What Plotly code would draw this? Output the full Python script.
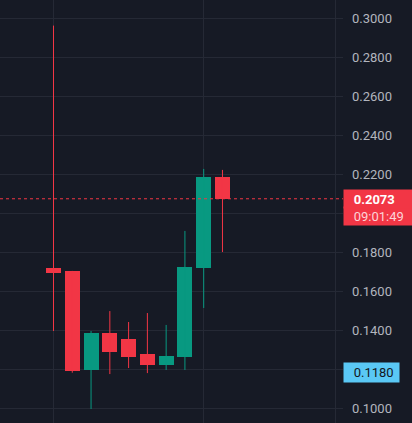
import plotly.graph_objects as go

# candle data
idx = [0, 1, 2, 3, 4, 5, 6, 7, 8, 9]
opens = [0.1718, 0.1703, 0.1196, 0.1385, 0.1354, 0.1277, 0.1221, 0.1262, 0.1718, 0.2185]
highs = [0.2961, 0.1703, 0.1395, 0.1497, 0.1441, 0.1487, 0.1426, 0.1908, 0.2226, 0.2221]
lows = [0.1395, 0.1181, 0.0995, 0.1174, 0.1205, 0.1179, 0.1195, 0.1195, 0.1513, 0.1800]
closes = [0.1690, 0.1191, 0.1385, 0.1289, 0.1262, 0.1221, 0.1267, 0.1723, 0.2185, 0.2073]

price_ticks = [0.10, 0.12, 0.14, 0.16, 0.18, 0.20, 0.22, 0.24, 0.26, 0.28, 0.30]
price_labels = ["0.1000", "", "0.1400", "0.1600", "0.1800", "", "0.2200", "0.2400", "0.2600", "0.2800", "0.3000"]
time_ticks = [0, 8, 15]

last_price = 0.2073
last_time = "09:01:49"
marker_price = 0.1180

UP = "#089981"
DOWN = "#f23645"
BG = "#161a25"
GRID = "#252935"
PAD = "&nbsp;&nbsp;&nbsp;"

fig = go.Figure()

for color, is_up in ((UP, True), (DOWN, False)):
    wx, wy = [], []
    for i, o, h, l, c in zip(idx, opens, highs, lows, closes):
        if (c >= o) == is_up:
            wx += [i, i, None]
            wy += [l, h, None]
    fig.add_trace(go.Scatter(x=wx, y=wy, mode="lines", line={"color": color, "width": 1},
                             hoverinfo="skip", showlegend=False))

fig.add_trace(
    go.Bar(
        x=idx,
        y=[abs(c - o) for o, c in zip(opens, closes)],
        base=[min(o, c) for o, c in zip(opens, closes)],
        width=0.8,
        marker={"color": [UP if c >= o else DOWN for o, c in zip(opens, closes)], "line": {"width": 0}},
        showlegend=False,
    )
)

fig.add_hline(y=last_price, line={"color": DOWN, "width": 1, "dash": "dot"})

# last price label (two stacked rows, second drawn first so the top row overlaps it)
fig.add_annotation(
    x=1, xref="paper", xanchor="left", y=last_price, yref="y", yanchor="top", yshift=-7,
    text=f"{PAD}{last_time}", showarrow=False, align="left",
    font={"family": "Roboto", "size": 13, "color": "#fdd3d7"},
    bgcolor=DOWN, borderpad=0, width=69, height=18,
)
fig.add_annotation(
    x=1, xref="paper", xanchor="left", y=last_price, yref="y", yanchor="middle",
    text=f"{PAD}<b>{last_price:.4f}</b>", showarrow=False, align="left",
    font={"family": "Roboto", "size": 13, "color": "#ffffff"},
    bgcolor=DOWN, borderpad=0, width=69, height=18,
)
fig.add_annotation(
    x=1, xref="paper", xanchor="left", y=marker_price, yref="y", yanchor="middle",
    text=f"{PAD}{marker_price:.4f}", showarrow=False, align="left",
    font={"family": "Roboto", "size": 13, "color": "#131722"},
    bgcolor="#5ac8f5", borderpad=0, width=55, height=19,
)

fig.update_layout(
    width=412,
    height=423,
    margin={"l": 0, "r": 69, "t": 0, "b": 0},
    paper_bgcolor=BG,
    plot_bgcolor=BG,
    font={"family": "Roboto", "size": 13, "color": "#b2b5be"},
    bargap=0,
    xaxis={"range": [-2.85, 15.42], "tickvals": time_ticks, "showticklabels": False,
           "gridcolor": GRID, "zeroline": False, "showline": False},
    yaxis={"range": [0.09231, 0.30923], "side": "right", "tickvals": price_ticks, "ticktext": price_labels,
           "gridcolor": GRID, "zeroline": False, "showline": False, "ticklabelstandoff": 8},
)

fig.write_html("out.html", config={"displayModeBar": False},
               post_script="document.body.style.margin='0';")
